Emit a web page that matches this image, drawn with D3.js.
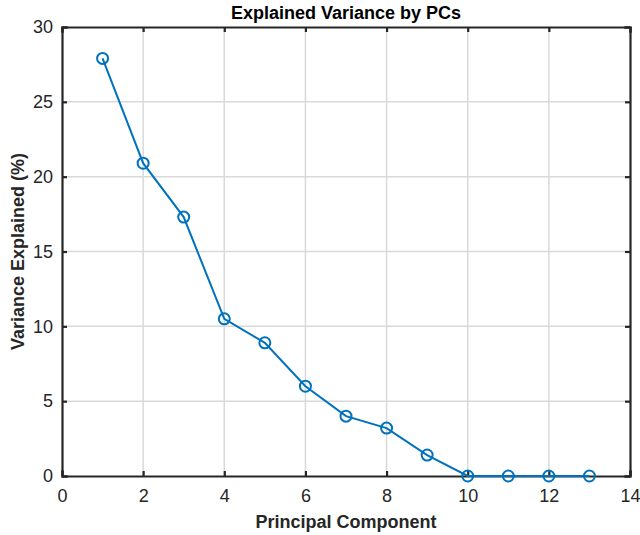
<!DOCTYPE html>
<html><head><meta charset="utf-8">
<script src="https://cdn.jsdelivr.net/npm/d3@7"></script>
<style>body{margin:0;background:#fff}svg{display:block}text{font-family:"Liberation Sans",Arial,sans-serif}</style>
</head><body><svg id="c" width="640" height="535"></svg>
<script>
const components = [1,2,3,4,5,6,7,8,9,10,11,12,13];
const varianceExplained = [27.9,20.9,17.3,10.5,8.9,6.0,4.0,3.2,1.4,0,0,0,0];
const xTicks = [0,2,4,6,8,10,12,14];
const yTicks = [0,5,10,15,20,25,30];
const titleText = "Explained Variance by PCs";
const xLabel = "Principal Component";
const yLabel = "Variance Explained (%)";

const svg = d3.select("#c");
const L=62,R=630,T=27,B=476;
const x = d3.scaleLinear().domain([0,14]).range([L,R]);
const y = d3.scaleLinear().domain([0,30]).range([B,T]);
const grid="#d9d9d9", ink="#262626";

// grid
svg.append("g").selectAll("line").data(xTicks.slice(1,-1)).join("line")
  .attr("x1",d=>x(d)).attr("x2",d=>x(d)).attr("y1",T).attr("y2",B)
  .attr("stroke",grid).attr("stroke-width",1.5);
svg.append("g").selectAll("line").data(yTicks.slice(1,-1)).join("line")
  .attr("y1",d=>y(d)).attr("y2",d=>y(d)).attr("x1",L).attr("x2",R)
  .attr("stroke",grid).attr("stroke-width",1.5);

// axes
const ax = svg.append("g").attr("transform",`translate(0,${B})`)
  .call(d3.axisBottom(x).tickValues(xTicks).tickSize(-5).tickPadding(13).tickFormat(d3.format("d")));
const ay = svg.append("g").attr("transform",`translate(${L},0)`)
  .call(d3.axisLeft(y).tickValues(yTicks).tickSize(-5).tickPadding(9).tickFormat(d3.format("d")));
const axt = svg.append("g").attr("transform",`translate(0,${T})`)
  .call(d3.axisTop(x).tickValues(xTicks).tickSize(-5).tickFormat(""));
const ayr = svg.append("g").attr("transform",`translate(${R},0)`)
  .call(d3.axisRight(y).tickValues(yTicks).tickSize(-5).tickFormat(""));
[ax,ay,axt,ayr].forEach(g=>{
  g.attr("font-size",null).attr("font-family",null);
  g.select(".domain").attr("stroke",ink).attr("stroke-width",2.2);
  g.selectAll(".tick line").attr("stroke",ink).attr("stroke-width",2.2);
  g.selectAll(".tick text").attr("fill",ink).style("font-size","18px");
});
svg.selectAll(".domain").attr("stroke-linecap","square");

// line
const pts = components.map((c,i)=>[c,varianceExplained[i]]);
svg.append("path").datum(pts)
  .attr("fill","none").attr("stroke","#0072BD").attr("stroke-width",2)
  .attr("d",d3.line().x(d=>x(d[0])).y(d=>y(d[1])));
svg.append("g").selectAll("circle").data(pts).join("circle")
  .attr("cx",d=>x(d[0])).attr("cy",d=>y(d[1])).attr("r",5.5)
  .attr("fill","none").attr("stroke","#0072BD").attr("stroke-width",2);

// labels
svg.append("text").attr("x",(L+R)/2).attr("y",19).attr("text-anchor","middle")
  .attr("font-weight","bold").style("font-size","18px").attr("fill","#000").text(titleText);
svg.append("text").attr("x",(L+R)/2).attr("y",528).attr("text-anchor","middle")
  .attr("font-weight","bold").style("font-size","18px").attr("fill",ink).text(xLabel);
svg.append("text").attr("transform",`translate(24,${(T+B)/2}) rotate(-90)`).attr("text-anchor","middle")
  .attr("font-weight","bold").style("font-size","18px").attr("fill",ink).text(yLabel);
</script></body></html>
